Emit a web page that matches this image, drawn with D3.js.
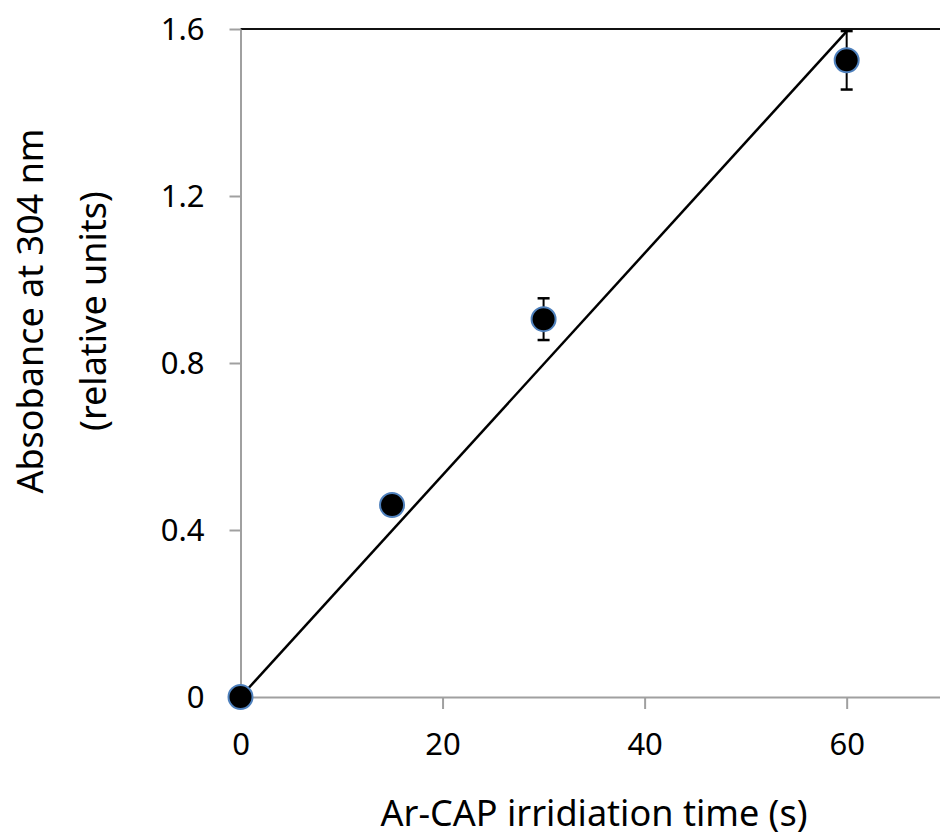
<!DOCTYPE html>
<html>
<head>
<meta charset="utf-8">
<script src="https://cdn.jsdelivr.net/npm/d3@7"></script>
<style>
  body { margin: 0; background: #fff; }
  text { font-family: "Noto Sans", "Open Sans", sans-serif; fill: #000; }
</style>
</head>
<body>
<div id="chart"></div>
<script>
  var w = 940,
    h = 836;

  // data
  var times = [0, 15, 30, 60];
  var absorb = [0, 0.46, 0.905, 1.525];
  var errs = [0, 0, 0.05, 0.07];
  var xTicks = [0, 20, 40, 60];
  var yTicks = [0, 0.4, 0.8, 1.2, 1.6];

  var svg = d3.select('#chart')
    .append('svg')
    .attr('width', w)
    .attr('height', h);

  var x = d3.scaleLinear().domain([0, 70]).range([240.5, 947.7]);
  var y = d3.scaleLinear().domain([0, 1.6]).range([697, 29]);

  ////////////////////////
  // top border
  ////////////////////////
  svg.append('line')
    .attr('x1', x(0)).attr('x2', w)
    .attr('y1', y(1.6)).attr('y2', y(1.6))
    .style('stroke', '#111')
    .style('stroke-width', 2);

  ////////////////////////
  // axes
  ////////////////////////
  var xAxis = svg.append('g')
    .attr('transform', 'translate(0,' + y(0) + ')')
    .call(d3.axisBottom(x).tickValues(xTicks).tickSize(12).tickSizeOuter(0).tickPadding(24));

  var yAxis = svg.append('g')
    .attr('transform', 'translate(' + x(0) + ',0)')
    .call(d3.axisLeft(y).tickValues(yTicks).tickSize(11).tickSizeOuter(0).tickPadding(25)
      .tickFormat(function(d) { return d === 0 ? '0' : d3.format('.1f')(d); }));

  [xAxis, yAxis].forEach(function(g) {
    g.select('.domain').style('stroke', '#a0a0a0').style('stroke-width', 2);
    g.selectAll('.tick line').style('stroke', '#a0a0a0').style('stroke-width', 2);
    g.selectAll('.tick text')
      .style('font-size', '31px')
      .style('font-family', '"Noto Sans", sans-serif')
      .attr('fill', '#000');
  });
  yAxis.selectAll('.tick text').attr('dy', '0.35em');

  ////////////////////////
  // axis titles
  ////////////////////////
  svg.append('text')
    .attr('x', 594)
    .attr('y', 826)
    .attr('text-anchor', 'middle')
    .attr('textLength', 427)
    .attr('lengthAdjust', 'spacingAndGlyphs')
    .style('font-size', '36px')
    .text('Ar-CAP irridiation time (s)');

  var yTitle = svg.append('text')
    .attr('transform', 'translate(0,311) rotate(-90)')
    .attr('text-anchor', 'middle')
    .style('font-size', '36px');
  yTitle.append('tspan').attr('x', 0).attr('y', 43)
    .attr('textLength', 365).attr('lengthAdjust', 'spacingAndGlyphs')
    .text('Absobance at 304 nm');
  yTitle.append('tspan').attr('x', 0).attr('y', 106).text('(relative units)');

  ////////////////////////
  // trendline through origin
  ////////////////////////
  var slope = d3.sum(times, function(t, i) { return t * absorb[i]; }) /
    d3.sum(times, function(t) { return t * t; });
  svg.append('line')
    .attr('x1', x(0)).attr('y1', y(0))
    .attr('x2', x(60)).attr('y2', y(slope * 60))
    .style('stroke', '#000')
    .style('stroke-width', 2.5);

  ////////////////////////
  // error bars
  ////////////////////////
  var pts = times.map(function(t, i) { return {t: t, v: absorb[i], e: errs[i]}; });
  var eb = svg.append('g').attr('class', 'errors');
  pts.filter(function(d) { return d.e > 0; }).forEach(function(d) {
    var cx = x(d.t);
    eb.append('line')
      .attr('x1', cx).attr('x2', cx)
      .attr('y1', y(d.v - d.e)).attr('y2', y(d.v + d.e))
      .style('stroke', '#000').style('stroke-width', 2);
    [d.v - d.e, d.v + d.e].forEach(function(v) {
      eb.append('line')
        .attr('x1', cx - 6).attr('x2', cx + 6)
        .attr('y1', y(v)).attr('y2', y(v))
        .style('stroke', '#000').style('stroke-width', 2.5);
    });
  });

  ////////////////////////
  // points
  ////////////////////////
  svg.selectAll('circle.pt')
    .data(pts)
    .enter().append('circle')
    .attr('class', 'pt')
    .attr('cx', function(d) { return x(d.t); })
    .attr('cy', function(d) { return y(d.v); })
    .attr('r', 12)
    .style('fill', '#000')
    .style('stroke', '#4f81bd')
    .style('stroke-width', 2);
</script>
</body>
</html>
